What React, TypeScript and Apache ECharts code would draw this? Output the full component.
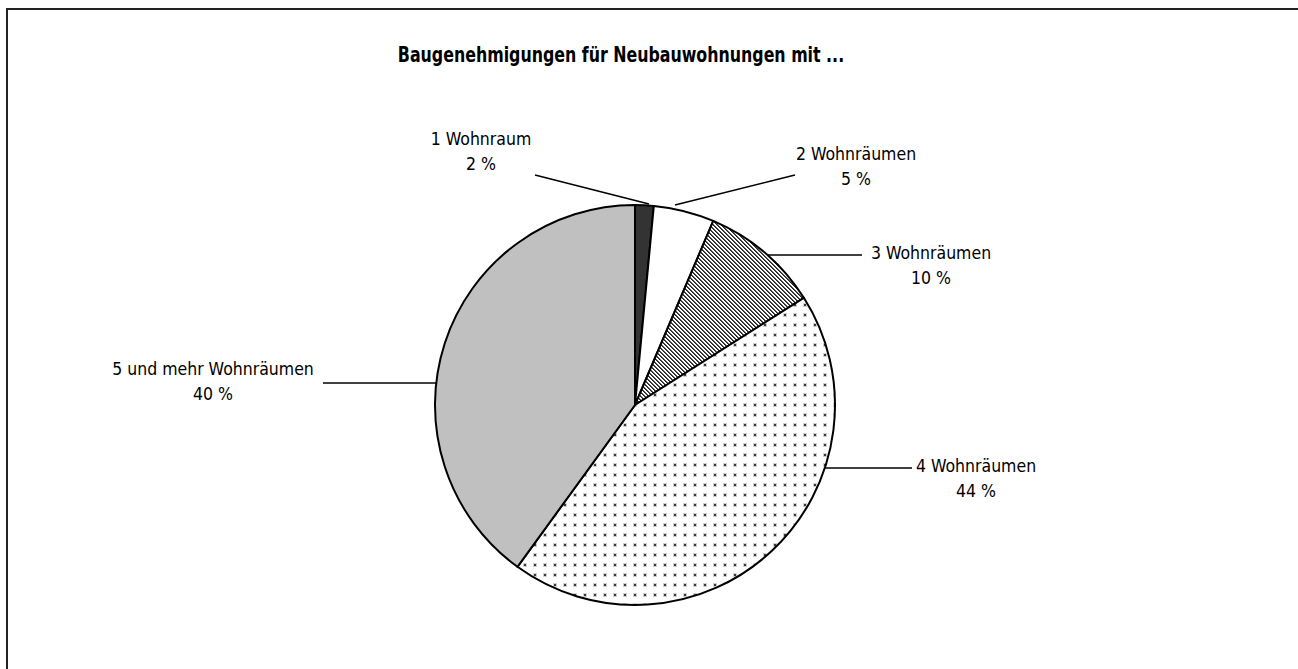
import React, { useEffect, useRef } from 'react';
import * as echarts from 'echarts';

const chartTitle = 'Baugenehmigungen für Neubauwohnungen mit ...';
const categories = ['1 Wohnraum', '2 Wohnräumen', '3 Wohnräumen', '4 Wohnräumen', '5 und mehr Wohnräumen'];
const shares = [1.5, 4.9, 9.6, 44.0, 40.0];

// layout only (label block centres and leader line points, px)
const labelCenters = [[481, 151], [856, 166], [931, 265], [976, 478], [213, 381]];
const leaderLines = [
  [[535, 175], [649, 204]],
  [[795, 175], [675, 205]],
  [[862, 255], [767, 255]],
  [[912, 468], [823, 468]],
  [[323, 383], [439, 383]],
];

const FONT = "'Liberation Sans Narrow', 'Arial Narrow', 'DejaVu Sans Condensed', sans-serif";

function tile(size: number, draw: (ctx: CanvasRenderingContext2D) => void) {
  const c = document.createElement('canvas');
  c.width = size;
  c.height = size;
  const ctx = c.getContext('2d')!;
  ctx.fillStyle = '#ffffff';
  ctx.fillRect(0, 0, size, size);
  draw(ctx);
  return c;
}

export default function App() {
  const ref = useRef<HTMLDivElement>(null);
  useEffect(() => {
    document.body.style.margin = '0';
    const chart = echarts.init(ref.current!, null, { renderer: 'svg' });
    const hatch = tile(4, (ctx) => {
      for (let y = 0; y < 4; y++) {
        for (let x = 0; x < 4; x++) {
          const d = (((x - y) % 4) + 4) % 4;
          if (d === 0) {
            ctx.fillStyle = '#222222';
            ctx.fillRect(x, y, 1, 1);
          } else if (d === 1) {
            ctx.fillStyle = '#555555';
            ctx.fillRect(x, y, 1, 1);
          }
        }
      }
    });
    const dots = tile(10, (ctx) => {
      ctx.fillStyle = '#d0d0d0';
      ctx.fillRect(3, 3, 4, 4);
      ctx.fillStyle = '#3a3a3a';
      ctx.fillRect(4, 4, 2, 2);
    });
    const fills: any[] = [
      '#333333',
      '#ffffff',
      { image: hatch, repeat: 'repeat' },
      { image: dots, repeat: 'repeat' },
      '#c0c0c0',
    ];
    chart.setOption({
      animation: false,
      backgroundColor: '#ffffff',
      graphic: [
        { type: 'line', shape: { x1: 7, y1: 9, x2: 7, y2: 669 }, style: { stroke: '#222', lineWidth: 2 } },
        { type: 'line', shape: { x1: 6, y1: 9, x2: 1298, y2: 9 }, style: { stroke: '#222', lineWidth: 2 } },
        {
          type: 'text',
          x: 621,
          y: 55,
          scaleX: 0.8,
          style: {
            text: chartTitle,
            fontFamily: FONT,
            fontSize: 22,
            fontWeight: 'bold',
            fill: '#000',
            align: 'center',
            verticalAlign: 'middle',
          },
        },
      ],
      series: [
        {
          type: 'pie',
          center: [635, 405],
          radius: 200,
          startAngle: 90,
          clockwise: true,
          avoidLabelOverlap: false,
          emphasis: { disabled: true },
          itemStyle: { borderColor: '#000', borderWidth: 2 },
          label: {
            show: true,
            position: 'outside',
            fontFamily: FONT,
            fontSize: 17.5,
            lineHeight: 25,
            color: '#000',
            formatter: (p: any) => `${p.name}\n${Math.round(p.value)} %`,
          },
          labelLine: { show: true, lineStyle: { color: '#000', width: 1.5 } },
          labelLayout: (p: any) => {
            const i = p.dataIndex;
            return {
              x: labelCenters[i][0],
              y: labelCenters[i][1],
              align: 'center',
              verticalAlign: 'middle',
              labelLinePoints: leaderLines[i],
            };
          },
          data: categories.map((name, i) => ({
            name,
            value: shares[i],
            itemStyle: { color: fills[i] },
          })),
        },
      ],
    });
    return () => chart.dispose();
  }, []);
  return <div ref={ref} style={{ width: 1298, height: 669 }} />;
}
